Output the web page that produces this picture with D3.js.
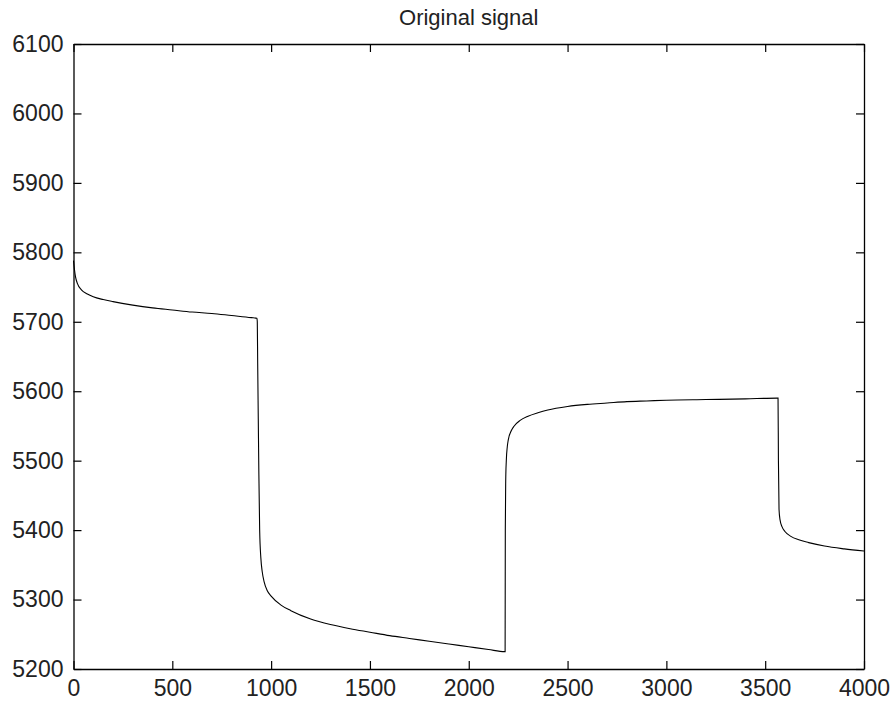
<!DOCTYPE html>
<html>
<head>
<meta charset="utf-8">
<script src="https://cdn.jsdelivr.net/npm/d3@7"></script>
<style>
  html, body { margin: 0; padding: 0; background: #fff; }
  text { font-family: "Liberation Sans", Arial, sans-serif; }
</style>
</head>
<body>
<div id="chart"></div>
<script>
// signal samples
const signalX = [
  0, 5, 10, 20, 40, 70, 100, 150, 200, 300, 400, 500, 600, 700, 800, 900, 928,
  930, 932, 935, 938, 942, 948, 955, 965, 980, 1000, 1050, 1100, 1200, 1300, 1400,
  1500, 1600, 1700, 1800, 1900, 2000, 2100, 2182,
  2184, 2185, 2187, 2190, 2195, 2200, 2215, 2230, 2260, 2300, 2350, 2400, 2500,
  2600, 2700, 2800, 2900, 3000, 3200, 3400, 3560,
  3565, 3567, 3570, 3575, 3585, 3600, 3630, 3670, 3720, 3800, 3900, 4000
];
const signalY = [
  5788, 5775, 5765, 5755, 5746, 5740, 5736, 5732, 5729, 5724, 5720, 5717, 5714, 5712, 5709, 5706, 5705,
  5700, 5640, 5560, 5480, 5400, 5360, 5340, 5325, 5313, 5305, 5292, 5284, 5272, 5264, 5258,
  5253, 5248, 5244, 5240, 5236, 5232, 5228, 5225,
  5225, 5400, 5470, 5500, 5520, 5530, 5543, 5550, 5558, 5564, 5569, 5573, 5578,
  5581, 5583, 5585, 5586, 5587, 5588, 5589, 5590,
  5590, 5500, 5430, 5415, 5405, 5398, 5391, 5386, 5382, 5377, 5373, 5370
];
const xTicks = [0, 500, 1000, 1500, 2000, 2500, 3000, 3500, 4000];
const yTicks = [5200, 5300, 5400, 5500, 5600, 5700, 5800, 5900, 6000, 6100];
const title = "Original signal";

const width = 892, height = 702;
const margin = { top: 44, right: 28, bottom: 33, left: 73.5 };
const innerW = width - margin.left - margin.right;
const innerH = height - margin.top - margin.bottom;

const svg = d3.select('#chart')
    .append('svg')
    .attr('width', width)
    .attr('height', height);

const g = svg.append('g')
    .attr('transform', `translate(${margin.left},${margin.top})`);

const x = d3.scaleLinear().domain([0, 4000]).range([0, innerW]);
const y = d3.scaleLinear().domain([5200, 6100]).range([innerH, 0]);

// Signal line
const pts = signalX.map((d, i) => [d, signalY[i]]);
g.append('path')
    .datum(pts)
    .attr('fill', 'none')
    .attr('stroke', '#000')
    .attr('stroke-width', 1.1)
    .attr('d', d3.line()
        .x(d => x(d[0]))
        .y(d => y(d[1]))
        .curve(d3.curveMonotoneX));

// Axes, ticks pointing inward on all four sides
const styleAxis = sel => {
    sel.selectAll('.domain').attr('stroke', '#000').attr('stroke-width', 1.3);
    sel.selectAll('.tick line').attr('stroke', '#000').attr('stroke-width', 1.2);
    sel.selectAll('text')
        .attr('font-family', '"Liberation Sans", Arial, sans-serif')
        .attr('font-size', 23)
        .attr('fill', '#222');
};

const fmt = d3.format('d');

g.append('g')
    .attr('transform', `translate(0,${innerH})`)
    .call(d3.axisBottom(x).tickValues(xTicks).tickFormat(fmt).tickSize(-8).tickSizeOuter(0).tickPadding(11))
    .call(styleAxis);

g.append('g')
    .call(d3.axisLeft(y).tickValues(yTicks).tickFormat(fmt).tickSize(-8).tickSizeOuter(0).tickPadding(10))
    .call(styleAxis);

g.append('g')
    .call(d3.axisTop(x).tickValues(xTicks).tickSize(-8).tickSizeOuter(0).tickFormat(''))
    .call(styleAxis);

g.append('g')
    .attr('transform', `translate(${innerW},0)`)
    .call(d3.axisRight(y).tickValues(yTicks).tickSize(-8).tickSizeOuter(0).tickFormat(''))
    .call(styleAxis);

// Title
svg.append('text')
    .attr('x', margin.left + innerW / 2)
    .attr('y', 25)
    .attr('text-anchor', 'middle')
    .attr('font-size', 22)
    .attr('fill', '#222')
    .text(title);
</script>
</body>
</html>
